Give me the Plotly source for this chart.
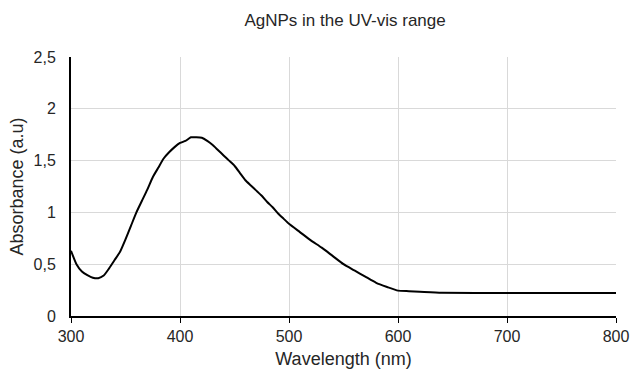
import plotly.graph_objects as go

wavelength = [300, 305, 310, 315, 320, 325, 330, 335, 340, 345, 350, 355, 360, 365, 370,
              375, 380, 385, 390, 395, 400, 405, 410, 415, 420, 425, 430, 435, 440, 445,
              450, 455, 460, 465, 470, 475, 480, 485, 490, 495, 500, 510, 520, 530, 540,
              550, 560, 570, 580, 590, 600, 610, 620, 640, 700, 800]
absorbance = [0.63, 0.50, 0.43, 0.395, 0.37, 0.365, 0.39, 0.46, 0.54, 0.62, 0.74, 0.87, 1.0, 1.11, 1.22,
              1.34, 1.43, 1.52, 1.58, 1.63, 1.67, 1.69, 1.725, 1.725, 1.72, 1.69, 1.65, 1.60, 1.55, 1.50,
              1.45, 1.38, 1.31, 1.26, 1.21, 1.16, 1.10, 1.05, 0.99, 0.94, 0.89, 0.81, 0.73, 0.66, 0.58,
              0.50, 0.44, 0.38, 0.32, 0.28, 0.245, 0.24, 0.235, 0.225, 0.222, 0.222]

title_text = "AgNPs in the UV-vis range"
x_title = "Wavelength (nm)"
y_title = "Absorbance (a.u)"

fig = go.Figure()
fig.add_trace(go.Scatter(x=wavelength, y=absorbance, mode="lines",
                         line=dict(color="black", width=2, shape="spline", smoothing=0.5),
                         showlegend=False))

font_family = "Liberation Sans, Arial, sans-serif"
txt = "#262626"
fig.update_layout(
    width=632, height=369,
    margin=dict(l=71, r=16, t=57, b=53),
    paper_bgcolor="white", plot_bgcolor="white",
    separators=", ",
    font=dict(family=font_family, size=16, color=txt),
    title=dict(text=title_text, x=0.546, xanchor="center", y=0.946, yanchor="middle",
               font=dict(size=17, color=txt)),
    xaxis=dict(range=[300, 800], tickvals=[300, 400, 500, 600, 700, 800],
               automargin=False,
               showgrid=True, gridcolor="#d9d9d9", gridwidth=1,
               showline=True, linecolor="black", linewidth=2,
               ticks="outside", ticklen=5, tickcolor="black", tickwidth=1,
               zeroline=False,
               tickfont=dict(size=16, color=txt),
               title=dict(text=x_title, standoff=18, font=dict(size=18, color=txt))),
    yaxis=dict(range=[0, 2.5], tickvals=[0, 0.5, 1, 1.5, 2, 2.5],
               automargin=False,
               showgrid=True, gridcolor="#d9d9d9", gridwidth=1,
               showline=True, linecolor="black", linewidth=2,
               ticks="outside", ticklen=10, tickcolor="rgba(0,0,0,0)",
               zeroline=False,
               tickfont=dict(size=16, color=txt),
               title=dict(text=y_title, standoff=5, font=dict(size=18, color=txt))),
)

fig.write_html("out.html",
               config={"displayModeBar": False},
               post_script="document.body.style.margin='0';document.body.style.overflow='hidden';")
